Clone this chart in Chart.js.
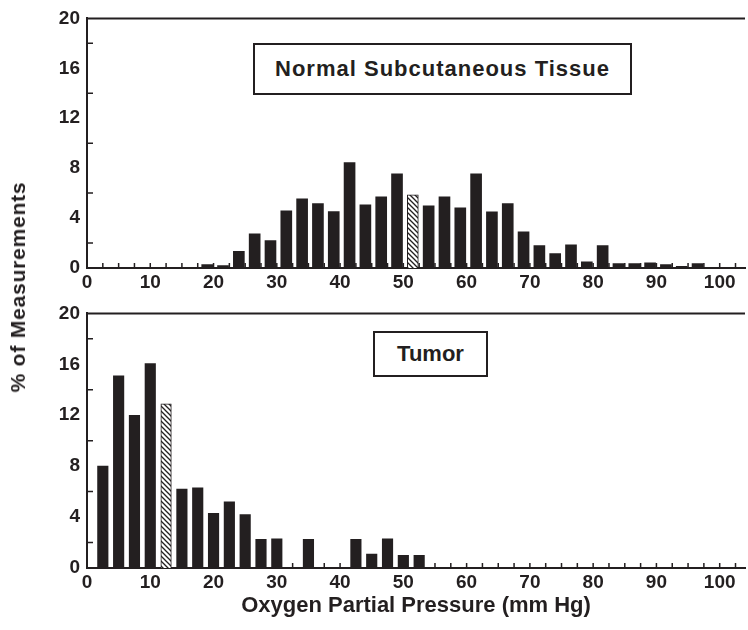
<!DOCTYPE html>
<html>
<head>
<meta charset="utf-8">
<script src="https://cdn.jsdelivr.net/npm/chart.js@4.4.0/dist/chart.umd.min.js"></script>
<style>
  body { margin: 0; background: #fff; }
  #wrap { position: relative; width: 748px; height: 630px; font-family: "Liberation Sans", Arial, sans-serif; color: #231f20; }
  canvas { position: absolute; left: 0; }
  #topChart { top: 0; }
  #bottomChart { top: 295px; }
  .box { position: absolute; box-sizing: border-box; border: 2px solid #231f20; background: #fff;
         font-weight: bold; font-size: 22px; display: flex; align-items: center; justify-content: center; white-space: nowrap; }
  #ylab { position: absolute; left: 18px; top: 287px; transform: translate(-50%, -50%) rotate(-90deg);
          font-weight: bold; font-size: 21px; letter-spacing: 0.8px; white-space: nowrap; }
</style>
</head>
<body>
<div id="wrap">
  <canvas id="topChart" width="748" height="300"></canvas>
  <canvas id="bottomChart" width="748" height="335"></canvas>
  <div class="box" style="left:253px; top:43px; width:379px; height:52px; letter-spacing:1px;">Normal Subcutaneous Tissue</div>
  <div class="box" style="left:373px; top:331px; width:115px; height:46px;">Tumor</div>
  <div id="ylab">% of Measurements</div>
</div>
<script>
// bin centres (mm Hg) and % of measurements
var normalX = [19, 21.5, 24, 26.5, 29, 31.5, 34, 36.5, 39, 41.5, 44, 46.5, 49, 51.5, 54, 56.5,
               59, 61.5, 64, 66.5, 69, 71.5, 74, 76.5, 79, 81.5, 84, 86.5, 89, 91.5, 94, 96.5];
var normalPct = [0.27, 0.2, 1.33, 2.74, 2.2, 4.58, 5.54, 5.17, 4.53, 8.45, 5.07, 5.7, 7.54, 5.86, 4.99, 5.7,
                 4.83, 7.54, 4.5, 5.17, 2.9, 1.79, 1.15, 1.86, 0.5, 1.79, 0.35, 0.35, 0.42, 0.27, 0.13, 0.35];
var normalMedian = 51.5;

var tumorX = [2.5, 5, 7.5, 10, 12.5, 15, 17.5, 20, 22.5, 25, 27.5, 30, 32.5, 35, 37.5, 40, 42.5, 45, 47.5, 50, 52.5];
var tumorPct = [8.0, 15.1, 12.0, 16.05, 12.9, 6.2, 6.3, 4.3, 5.2, 4.2, 2.25, 2.3, 0, 2.25, 0, 0, 2.25, 1.1, 2.3, 1.0, 1.0];
var tumorMedian = 12.5;

var xTicks = [0, 10, 20, 30, 40, 50, 60, 70, 80, 90, 100];
var yTicks = [0, 4, 8, 12, 16, 20];
var yMinor = [2, 6, 10, 14, 18];

var ink = '#231f20';
var tickFont = { family: '"Liberation Sans", Arial, sans-serif', size: 19, weight: 'bold' };

function hatch() {
  var c = document.createElement('canvas');
  c.width = 5; c.height = 5;
  var g = c.getContext('2d');
  g.fillStyle = '#fff';
  g.fillRect(0, 0, 5, 5);
  g.strokeStyle = ink;
  g.lineWidth = 1.3;
  g.beginPath();
  g.moveTo(-1, -1); g.lineTo(6, 6);
  g.moveTo(-1, 4); g.lineTo(1, 6);
  g.moveTo(4, -1); g.lineTo(6, 1);
  g.stroke();
  return g.createPattern(c, 'repeat');
}
var pattern = hatch();

// top border line and inward tick marks
var frame = {
  id: 'frame',
  beforeDatasetsDraw: function (chart) {
    var ctx = chart.ctx, a = chart.chartArea, xs = chart.scales.x, ys = chart.scales.y;
    ctx.save();
    ctx.strokeStyle = ink;
    ctx.lineWidth = 2;
    ctx.beginPath();
    ctx.moveTo(a.left - 1, a.top);
    ctx.lineTo(a.right, a.top);
    ctx.stroke();
    ctx.lineWidth = 1.5;
    ctx.beginPath();
    for (var v = 2.5; v < xs.max; v += 2.5) {
      var px = xs.getPixelForValue(v);
      ctx.moveTo(px, a.bottom);
      ctx.lineTo(px, a.bottom - 5);
    }
    yMinor.forEach(function (t) {
      var py = ys.getPixelForValue(t);
      ctx.moveTo(a.left, py);
      ctx.lineTo(a.left + 6, py);
    });
    ctx.stroke();
    ctx.restore();
  }
};

function makeChart(id, xs, ys, median, thick, xHeight, withTitle) {
  var points = xs.map(function (x, i) { return { x: x, y: ys[i] }; });
  var fills = xs.map(function (x) { return x === median ? pattern : ink; });
  var borders = xs.map(function (x) { return x === median ? 1 : 0; });
  return new Chart(document.getElementById(id), {
    type: 'bar',
    data: {
      datasets: [{
        data: points,
        backgroundColor: fills,
        borderColor: ink,
        borderWidth: borders,
        borderSkipped: 'bottom',
        barThickness: thick
      }]
    },
    options: {
      responsive: false,
      animation: false,
      layout: { padding: { top: 18, right: 3, left: 0, bottom: 0 } },
      plugins: { legend: { display: false }, tooltip: { enabled: false } },
      scales: {
        x: {
          type: 'linear',
          min: 0,
          max: 104,
          offset: false,
          grid: { display: false, drawTicks: false },
          border: { color: ink, width: 2 },
          ticks: { font: tickFont, color: ink, padding: 3, maxRotation: 0 },
          afterBuildTicks: function (s) { s.ticks = xTicks.map(function (v) { return { value: v }; }); },
          afterFit: function (s) { s.height = xHeight; },
          title: {
            display: withTitle,
            text: 'Oxygen Partial Pressure (mm Hg)',
            color: ink,
            font: { family: '"Liberation Sans", Arial, sans-serif', size: 22, weight: 'bold' },
            padding: { top: 0, bottom: 11 }
          }
        },
        y: {
          min: 0,
          max: 20,
          grid: { display: false, drawTicks: false },
          border: { color: ink, width: 2 },
          ticks: { font: tickFont, color: ink, padding: 7 },
          afterBuildTicks: function (s) { s.ticks = yTicks.map(function (v) { return { value: v }; }); },
          afterFit: function (s) { s.width = 87; }
        }
      }
    },
    plugins: [frame]
  });
}

makeChart('topChart', normalX, normalPct, normalMedian, 11, 32, false);
makeChart('bottomChart', tumorX, tumorPct, tumorMedian, 10.5, 62, true);
</script>
</body>
</html>
